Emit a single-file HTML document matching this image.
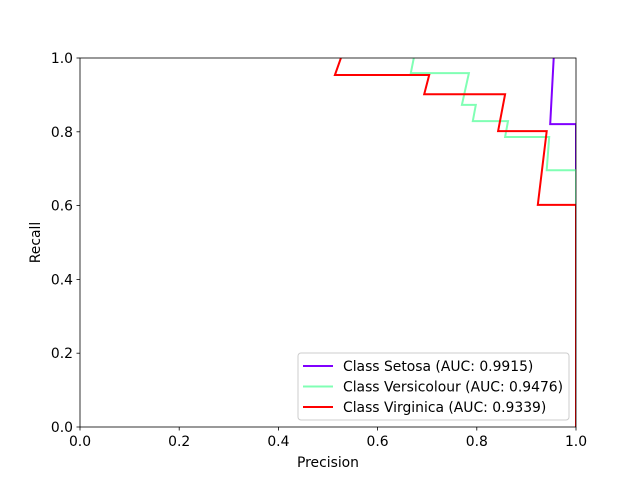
<!DOCTYPE html>
<html><head><meta charset="utf-8"><style>
body{margin:0;background:#fff}
svg{display:block;font-family:"DejaVu Sans","Liberation Sans",sans-serif}
</style></head><body>
<svg id="chart" width="640" height="480" xmlns="http://www.w3.org/2000/svg">
<rect width="640" height="480" fill="#fff"/>
<g id="plot"></g>
<g id="axes"></g>
<g id="legend"></g>
</svg>
<script>
const seriesNames = ["Class Setosa (AUC: 0.9915)","Class Versicolour (AUC: 0.9476)","Class Virginica (AUC: 0.9339)"];
const seriesColors = ["#8000ff","#80ffb4","#ff0000"];
const setosaPrecision = [0.955,0.948,1.0,1.0];
const setosaRecall = [1.0,0.821,0.821,0.0];
const versiPrecision = [0.673,0.667,0.784,0.770,0.798,0.792,0.863,0.857,0.946,0.941,1.0,1.0];
const versiRecall = [1.0,0.959,0.959,0.873,0.873,0.829,0.829,0.786,0.786,0.696,0.696,0.0];
const virgPrecision = [0.526,0.514,0.704,0.694,0.857,0.843,0.941,0.923,1.0,1.0];
const virgRecall = [1.0,0.954,0.954,0.902,0.902,0.802,0.802,0.602,0.602,0.0];
const xTicks = [0,0.2,0.4,0.6,0.8,1.0];
const yTicks = [0,0.2,0.4,0.6,0.8,1.0];
const tickLabels = ["0.0","0.2","0.4","0.6","0.8","1.0"];

const X0=80,X1=576,Y0=427,Y1=58,FS=13.9;
const sx=v=>X0+v*(X1-X0);
const sy=v=>Y0-v*(Y0-Y1);
const NS="http://www.w3.org/2000/svg";
function mk(tag,attrs,parent){const e=document.createElementNS(NS,tag);for(const k in attrs)e.setAttribute(k,attrs[k]);parent.appendChild(e);return e;}

const plot=document.getElementById('plot');
const clip=mk('clipPath',{id:'clip'},plot);
mk('rect',{x:X0,y:Y1,width:X1-X0,height:Y0-Y1},clip);
const series=[[setosaPrecision,setosaRecall],[versiPrecision,versiRecall],[virgPrecision,virgRecall]];
const slugs=["setosa","versicolour","virginica"];
series.forEach((s,i)=>{
  const pts=s[0].map((p,j)=>sx(p).toFixed(1)+","+sy(s[1][j]).toFixed(1)).join(" ");
  const pl=mk('polyline',{points:pts,fill:"none",stroke:seriesColors[i],"stroke-width":2,"clip-path":"url(#clip)"},plot);
  
  
});

const axes=document.getElementById('axes');
mk('rect',{x:X0,y:Y1,width:X1-X0,height:Y0-Y1,fill:"none",stroke:"#000","stroke-width":0.8},axes);
xTicks.forEach((t,i)=>{
  const x=sx(t);
  mk('line',{x1:x,x2:x,y1:Y0,y2:Y0+3.5,stroke:"#000","stroke-width":0.8},axes);
  const tx=mk('text',{x:x,y:Y0+19,"font-size":FS,"text-anchor":"middle"},axes);
  tx.textContent=tickLabels[i];
  
  
});
yTicks.forEach((t,i)=>{
  const y=sy(t);
  mk('line',{x1:X0-3.5,x2:X0,y1:y,y2:y,stroke:"#000","stroke-width":0.8},axes);
  const tx=mk('text',{x:X0-7,y:y+5,"font-size":FS,"text-anchor":"end"},axes);
  tx.textContent=tickLabels[i];
  
  
});
const xl=mk('text',{x:(X0+X1)/2,y:467,"font-size":FS,"text-anchor":"middle"},axes);
xl.textContent="Precision";


const yl=mk('text',{x:40,y:(Y0+Y1)/2,"font-size":FS,"text-anchor":"middle",transform:"rotate(-90 40 "+((Y0+Y1)/2)+")"},axes);
yl.textContent="Recall";



const lg=document.getElementById('legend');
mk('rect',{x:298,y:353,width:271,height:67,rx:3,fill:"#fff","fill-opacity":0.8,stroke:"#ccc","stroke-width":1},lg);
seriesNames.forEach((n,i)=>{
  const y=366+i*20.5;
  const g=mk('g',{},lg);
  
  
  mk('line',{x1:303,x2:333,y1:y,y2:y,stroke:seriesColors[i],"stroke-width":2},g);
  const t=mk('text',{x:343,y:y+5,"font-size":FS},g);
  t.textContent=n;
});
</script>
</body></html>
